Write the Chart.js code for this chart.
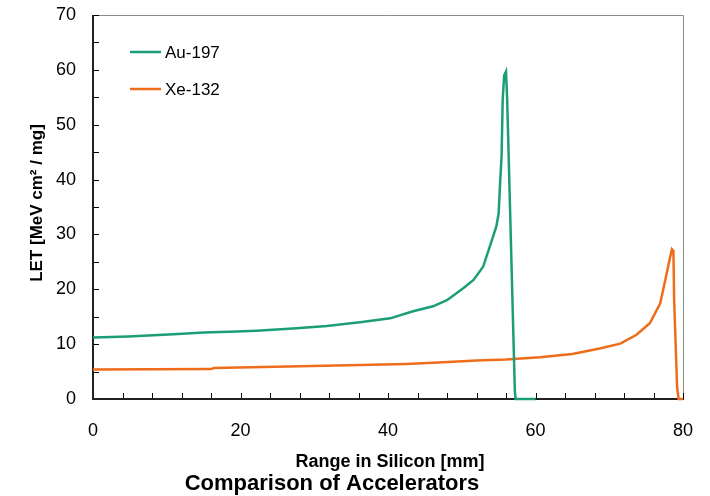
<!DOCTYPE html>
<html>
<head>
<meta charset="utf-8">
<script src="https://cdn.jsdelivr.net/npm/chart.js@4/dist/chart.umd.min.js"></script>
<style>
  html, body { margin: 0; padding: 0; background: #fff; }
  #wrap { width: 710px; height: 496px; }
</style>
</head>
<body>
<div id="wrap"><canvas id="letChart" width="710" height="496"></canvas></div>
<script>
// LET vs range in silicon
const auRange = [0, 4.8, 10.9, 15, 19.5, 22.2, 27.6, 31.7, 36.2, 40.3, 43.4, 46.1, 48, 50.2, 51.6, 52.9, 54.1, 54.7, 55.0, 55.2, 55.4, 55.55, 55.75, 56.0, 56.15, 57.2, 57.3, 60];
const auLet   = [11.2, 11.4, 11.8, 12.1, 12.3, 12.45, 12.9, 13.3, 14.0, 14.7, 16.0, 16.9, 18.0, 20.2, 21.7, 24.1, 29.0, 31.5, 33.8, 39.4, 44.2, 54.5, 59.0, 59.7, 55.0, 1.5, 0, 0];

const xeRange = [0, 16, 16.4, 28.1, 36.2, 42.5, 47.5, 52, 56, 60.6, 65, 68.7, 71.5, 73.7, 75.5, 76.9, 77.6, 78.2, 78.5, 78.7, 78.8, 79.2, 79.4, 80];
const xeLet   = [5.4, 5.45, 5.65, 5.95, 6.2, 6.4, 6.7, 7.0, 7.2, 7.6, 8.2, 9.2, 10.1, 11.7, 13.8, 17.4, 21.7, 25.5, 27.3, 27.0, 18.0, 2.2, 0, 0];

const seriesNames = ['Au-197', 'Xe-132'];
const seriesColors = ['#1b9e77', '#ef6c1a'];

const xTicks = [0, 20, 40, 60, 80];
const yTicks = [0, 10, 20, 30, 40, 50, 60, 70];

const fontFamily = '"Liberation Sans", Arial, sans-serif';

function toPoints(xs, ys) {
    return xs.map((x, i) => ({ x: x, y: ys[i] }));
}

// axis box + inside tick marks
const framePlugin = {
    id: 'frame',
    beforeDatasetsDraw(chart) {
        const { ctx, chartArea: a, scales } = chart;
        ctx.save();
        ctx.strokeStyle = '#8a8a8a';
        ctx.lineWidth = 1;
        ctx.beginPath();
        ctx.moveTo(a.left, a.top + 0.5);
        ctx.lineTo(a.right + 0.5, a.top + 0.5);
        ctx.lineTo(a.right + 0.5, a.bottom);
        ctx.stroke();

        ctx.strokeStyle = '#000';
        ctx.lineWidth = 1;
        for (let v = 0; v <= 70; v += 5) {
            const y = Math.round(scales.y.getPixelForValue(v)) + 0.5;
            ctx.beginPath();
            ctx.moveTo(a.left, y);
            ctx.lineTo(a.left + 6, y);
            ctx.stroke();
        }
        for (let v = 0; v <= 80; v += 4) {
            const x = Math.round(scales.x.getPixelForValue(v)) + 0.5;
            ctx.beginPath();
            ctx.moveTo(x, a.bottom);
            ctx.lineTo(x, a.bottom - 6);
            ctx.stroke();
        }

        ctx.strokeStyle = '#222';
        ctx.lineWidth = 2;
        ctx.beginPath();
        ctx.moveTo(a.left, a.top);
        ctx.lineTo(a.left, a.bottom);
        ctx.lineTo(a.right + 1, a.bottom);
        ctx.stroke();
        ctx.restore();
    },
    afterDraw(chart) {
        const { ctx } = chart;
        ctx.save();
        ctx.fillStyle = '#000';

        // legend inside the plot
        ctx.font = '17px ' + fontFamily;
        ctx.textBaseline = 'middle';
        ctx.textAlign = 'left';
        const legendY = [52, 89];
        seriesNames.forEach((name, i) => {
            ctx.strokeStyle = seriesColors[i];
            ctx.lineWidth = 2.5;
            ctx.beginPath();
            ctx.moveTo(130, legendY[i]);
            ctx.lineTo(161, legendY[i]);
            ctx.stroke();
            ctx.fillText(name, 165, legendY[i] + 1);
        });

        // axis titles
        ctx.font = 'bold 18px ' + fontFamily;
        ctx.textAlign = 'center';
        ctx.fillText('Range in Silicon [mm]', 390, 462);

        ctx.save();
        ctx.translate(37, 203);
        ctx.rotate(-Math.PI / 2);
        ctx.font = 'bold 17px ' + fontFamily;
        ctx.fillText('LET [MeV cm² / mg]', 0, 0);
        ctx.restore();

        // chart title
        ctx.font = 'bold 22px ' + fontFamily;
        ctx.fillText('Comparison of Accelerators', 332, 484);
        ctx.restore();
    }
};

const letChart = new Chart(document.getElementById('letChart'), {
    type: 'line',
    data: {
        datasets: [
            {
                label: seriesNames[0],
                data: toPoints(auRange, auLet),
                borderColor: seriesColors[0],
                borderWidth: 2.5,
                pointRadius: 0,
                tension: 0,
                clip: 4
            },
            {
                label: seriesNames[1],
                data: toPoints(xeRange, xeLet),
                borderColor: seriesColors[1],
                borderWidth: 2.5,
                pointRadius: 0,
                tension: 0,
                clip: 4
            }
        ]
    },
    options: {
        responsive: false,
        animation: false,
        layout: { padding: { top: 15, right: 27, left: 0, bottom: 0 } },
        plugins: {
            legend: { display: false },
            tooltip: { enabled: false }
        },
        scales: {
            x: {
                type: 'linear',
                min: 0,
                max: 80,
                grid: { display: false },
                border: { display: false },
                afterBuildTicks: (scale) => { scale.ticks = xTicks.map(v => ({ value: v })); },
                afterFit: (scale) => {
                    scale.height = 97;
                    scale.paddingLeft = 0;
                    scale.paddingRight = 0;
                },
                ticks: {
                    color: '#000',
                    padding: 13,
                    maxRotation: 0,
                    font: { family: fontFamily, size: 18 }
                }
            },
            y: {
                min: 0,
                max: 70,
                grid: { display: false },
                border: { display: false },
                afterBuildTicks: (scale) => { scale.ticks = yTicks.map(v => ({ value: v })); },
                afterFit: (scale) => {
                    scale.width = 93;
                    scale.paddingTop = 0;
                    scale.paddingBottom = 0;
                },
                ticks: {
                    color: '#000',
                    padding: 9,
                    font: { family: fontFamily, size: 18 }
                }
            }
        }
    },
    plugins: [framePlugin]
});
</script>
</body>
</html>
